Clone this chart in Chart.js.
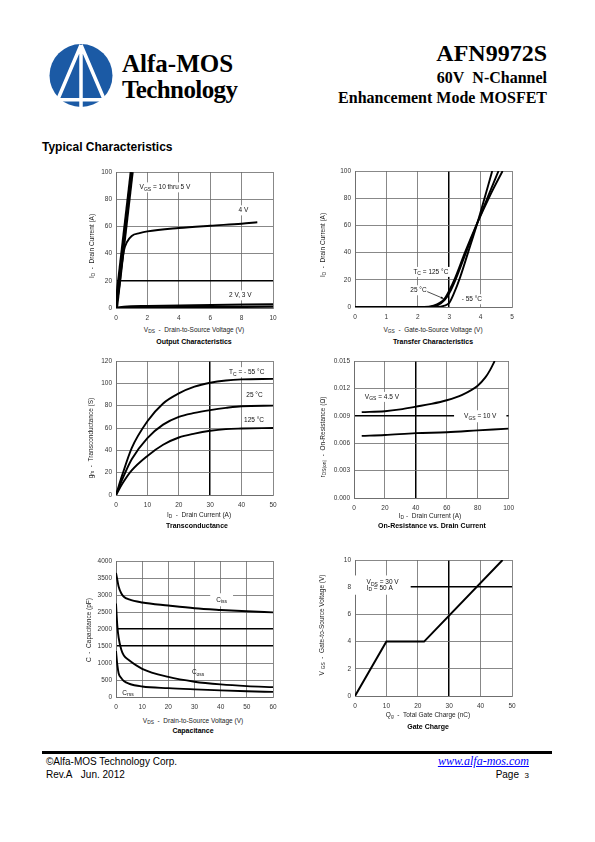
<!DOCTYPE html>
<html>
<head>
<meta charset="utf-8">
<script src="https://cdn.jsdelivr.net/npm/chart.js@4.4.1/dist/chart.umd.min.js"></script>
<style>
  body { margin: 0; width: 595px; height: 842px; position: relative; background: #fff; overflow: hidden;
         font-family: "Liberation Sans", Arial, sans-serif; color: #000; }
  .abs { position: absolute; white-space: nowrap; line-height: 1; }
  canvas { position: absolute; }
  .serif { font-family: "Liberation Serif", "Times New Roman", serif; font-weight: bold; }
  .c { transform: translate(-50%, -50%); }
  .xt { font-size: 6.5px; color: #222; }
  .yt { font-size: 6.5px; color: #222; transform: translate(-50%, -50%) rotate(-90deg); }
  .cap { font-size: 7px; font-weight: bold; }
  sub { font-size: 75%; vertical-align: -1.5px; line-height: 0; }
</style>
</head>
<body>

<svg class="abs" style="left:0;top:0" width="140" height="120">
  <circle cx="81" cy="75.5" r="31.5" fill="#1b5aa5"/>
  <rect x="45" y="98" width="72" height="3.5" fill="#fff"/>
  <path d="M81 45 L58 99 M81 45 L104 99 M81 45 L81 107" stroke="#fff" stroke-width="3.5" fill="none"/>
</svg>
<div class="abs serif" style="left:122px;top:51px;font-size:25px">Alfa-MOS</div>
<div class="abs serif" style="left:122px;top:77px;font-size:25px;letter-spacing:-0.6px">Technology</div>

<div class="abs serif" style="right:48px;top:41px;font-size:24px">AFN9972S</div>
<div class="abs serif" style="right:48px;top:69.5px;font-size:16px">60V&nbsp; N-Channel</div>
<div class="abs serif" style="right:48px;top:89.5px;font-size:16px">Enhancement Mode MOSFET</div>

<div class="abs" style="left:42px;top:141px;font-size:12px;font-weight:bold">Typical Characteristics</div>

<canvas id="c1"></canvas>
<canvas id="c2"></canvas>
<canvas id="c3"></canvas>
<canvas id="c4"></canvas>
<canvas id="c5"></canvas>
<canvas id="c6"></canvas>

<div class="abs yt" style="left:92px;top:246px">I<sub>D</sub>&nbsp; - &nbsp;Drain Current (A)</div>
<div class="abs xt c" style="left:194px;top:330px">V<sub>DS</sub>&nbsp; - &nbsp;Drain-to-Source Voltage (V)</div>
<div class="abs cap c" style="left:194px;top:341px">Output Characteristics</div>

<div class="abs yt" style="left:323px;top:245px">I<sub>D</sub>&nbsp; - &nbsp;Drain Current (A)</div>
<div class="abs xt c" style="left:433px;top:329.5px">V<sub>GS</sub>&nbsp; - &nbsp;Gate-to-Source Voltage (V)</div>
<div class="abs cap c" style="left:433px;top:341px">Transfer Characteristics</div>

<div class="abs yt" style="left:91px;top:438px">g<sub>fs</sub>&nbsp; - &nbsp;Transconductance (S)</div>
<div class="abs xt c" style="left:199px;top:514.5px">I<sub>D</sub>&nbsp; - &nbsp;Drain Current (A)</div>
<div class="abs cap c" style="left:197px;top:524.5px">Transconductance</div>

<div class="abs yt" style="left:323px;top:437px">r<sub>DS(on)</sub>&nbsp; - &nbsp;On-Resistance (Ω)</div>
<div class="abs xt c" style="left:430px;top:515.5px">I<sub>D</sub> - &nbsp;Drain Current (A)</div>
<div class="abs cap c" style="left:432px;top:524.5px">On-Resistance vs. Drain Current</div>

<div class="abs yt" style="left:89px;top:630px">C&nbsp; - &nbsp;Capacitance (pF)</div>
<div class="abs xt c" style="left:193px;top:720.5px">V<sub>DS</sub>&nbsp; - &nbsp;Drain-to-Source Voltage (V)</div>
<div class="abs cap c" style="left:193px;top:730px">Capacitance</div>

<div class="abs yt" style="left:322px;top:625px">V <sub>GS</sub>&nbsp; - &nbsp;Gate-to-Source Voltage (V)</div>
<div class="abs xt c" style="left:428px;top:714.5px">Q<sub>g</sub>&nbsp; - &nbsp;Total Gate Charge (nC)</div>
<div class="abs cap c" style="left:428px;top:725.5px">Gate Charge</div>

<div class="abs" style="left:42px;top:751px;width:510px;height:3px;background:#000"></div>
<div class="abs" style="left:46px;top:756.5px;font-size:10px">©Alfa-MOS Technology Corp.</div>
<div class="abs" style="left:46px;top:769.5px;font-size:10px">Rev.A&nbsp;&nbsp; Jun. 2012</div>
<div class="abs" style="right:66px;top:755px;font-size:12px;font-family:'Liberation Serif',serif;font-style:italic;color:#00f;text-decoration:underline">www.alfa-mos.com</div>
<div class="abs" style="right:66px;top:769.5px;font-size:10px">Page&nbsp; <span style="font-size:8px">3</span></div>

<script>
const FONT = '"Liberation Sans", Arial, sans-serif';

// Output characteristics (VDS in V, ID in A)
const outVdsHi = [0, 1.0];
const outIdHi = [0, 100];
const outVds4 = [0, 0.2, 0.35, 0.5, 0.7, 1, 1.5, 2, 4, 6, 8, 9];
const outId4 = [0, 15, 30, 42, 48.5, 53, 55, 56.3, 58.8, 60.5, 62, 63];
const outVdsLow = [0, 0.5, 2, 5, 10];
const outId3 = [0, 1, 1.5, 2, 2.8];
const outId2 = [0, 0.3, 0.5, 0.7, 1];

// Transfer characteristics (VGS in V, ID in A)
const tfVgs125 = [0, 2.2, 2.5, 2.7, 2.85, 3.0, 3.2, 3.5, 3.9, 4.3, 4.7];
const tfId125 = [0, 0, 1, 3, 6, 12, 22, 40, 62, 82, 100];
const tfVgs25 = [0, 2.4, 2.65, 2.85, 3.0, 3.2, 3.5, 3.9, 4.25, 4.57];
const tfId25 = [0, 0, 1.5, 5, 10, 20, 38, 62, 82, 100];
const tfVgsM55 = [0, 2.6, 2.85, 3.0, 3.15, 3.35, 3.6, 3.9, 4.15, 4.37];
const tfIdM55 = [0, 0, 1, 3, 10, 22, 40, 62, 82, 100];

// Transconductance (ID in A, gfs in S)
const gfsId = [0, 2, 5, 10, 15, 20, 25, 30, 35, 40, 50];
const gfsM55 = [0, 18, 42, 66, 82, 91, 97, 100.5, 102.5, 103.5, 104];
const gfs25 = [0, 14, 32, 51, 63, 70, 73.5, 76, 78, 79.5, 80];
const gfs125 = [0, 10, 22, 35, 45, 51.5, 55, 57.5, 59, 59.5, 60];

// On-resistance (ID in A, rDS(on) in ohm)
const ronId45 = [5, 20, 30, 40, 50, 60, 70, 80, 85, 88, 91];
const ron45 = [0.0094, 0.0095, 0.0097, 0.0100, 0.0103, 0.0107, 0.0113, 0.0123, 0.0132, 0.0140, 0.0150];
const ronId10 = [5, 20, 40, 60, 80, 100];
const ron10 = [0.0068, 0.0069, 0.0071, 0.0072, 0.0074, 0.0076];

// Capacitance (VDS in V, C in pF)
const capVds = [0, 0.5, 1, 2, 3, 5, 10, 20, 30, 40, 50, 60];
const capIss = [3650, 3450, 3250, 3050, 2950, 2870, 2780, 2690, 2610, 2560, 2520, 2490];
const capOss = [2750, 2100, 1750, 1400, 1220, 1080, 830, 590, 450, 370, 320, 290];
const capRss = [1350, 950, 700, 560, 470, 390, 310, 260, 225, 195, 170, 150];

// Gate charge (Qg in nC, VGS in V)
const gcQg = [0, 10, 22, 47];
const gcVgs = [0, 4, 4, 10];

const PAD_L = 40, PAD_T = 8, PAD_R = 10, PAD_B = 16;

function xy(xs, ys) { return xs.map((x, i) => ({ x: x, y: ys[i] })); }

function line(xs, ys, w, smooth) {
  return {
    data: xy(xs, ys), borderColor: '#000', borderWidth: w || 1.9, pointRadius: 0, fill: false,
    cubicInterpolationMode: smooth === false ? 'default' : 'monotone', tension: 0
  };
}

function scale(isX, min, max, step, dark, fmt) {
  const hit = v => dark.some(d => Math.abs(v - d) < step / 100);
  return {
    type: 'linear', min: min, max: max,
    afterFit: s => { if (isX) s.height = PAD_B; else s.width = PAD_L; },
    ticks: { stepSize: step, padding: isX ? 6 : 4, color: '#333', autoSkip: false, maxRotation: 0,
             font: { family: FONT, size: 6.5 }, callback: fmt || (v => v) },
    grid: { drawTicks: false,
            color: c => hit(c.tick.value) ? '#000' : '#6a6a6a',
            lineWidth: c => hit(c.tick.value) ? 1.5 : 0.8 },
    border: { color: '#6a6a6a', width: 0.8 }
  };
}

function splitRich(text) { return text.split(/_\{([^}]*)\}/); }
function richWidth(ctx, parts) {
  let w = 0;
  parts.forEach((p, i) => { ctx.font = (i % 2 ? '5px ' : '6.5px ') + FONT; w += ctx.measureText(p).width; });
  return w;
}

const notes = {
  id: 'notes',
  afterDatasetsDraw(chart, args, opts) {
    const ctx = chart.ctx, sx = chart.scales.x, sy = chart.scales.y;
    const items = opts.items || [];
    ctx.save();
    items.forEach(n => {
      if (!n.t || !n.bg) return;
      const w = richWidth(ctx, splitRich(n.t));
      const px = sx.getPixelForValue(n.x), py = sy.getPixelForValue(n.y);
      ctx.fillStyle = '#fff';
      ctx.fillRect(px - n.bg[0], py - 4 - n.bg[1], w + 2 * n.bg[0], 8 + 2 * n.bg[1]);
    });
    items.forEach(n => {
      if (n.arrow) {
        const a = n.arrow;
        const x0 = sx.getPixelForValue(a[0]), y0 = sy.getPixelForValue(a[1]);
        const x1 = sx.getPixelForValue(a[2]), y1 = sy.getPixelForValue(a[3]);
        const ang = Math.atan2(y1 - y0, x1 - x0);
        ctx.strokeStyle = '#000'; ctx.fillStyle = '#000'; ctx.lineWidth = 0.7;
        ctx.beginPath(); ctx.moveTo(x0, y0); ctx.lineTo(x1, y1); ctx.stroke();
        ctx.beginPath(); ctx.moveTo(x1, y1);
        ctx.lineTo(x1 - 3 * Math.cos(ang - 0.4), y1 - 3 * Math.sin(ang - 0.4));
        ctx.lineTo(x1 - 3 * Math.cos(ang + 0.4), y1 - 3 * Math.sin(ang + 0.4));
        ctx.fill();
        return;
      }
      const parts = splitRich(n.t);
      let cx = sx.getPixelForValue(n.x);
      const py = sy.getPixelForValue(n.y);
      ctx.fillStyle = '#111'; ctx.textBaseline = 'middle'; ctx.textAlign = 'left';
      parts.forEach((p, i) => {
        ctx.font = (i % 2 ? '5px ' : '6.5px ') + FONT;
        ctx.fillText(p, cx, py + (i % 2 ? 2 : 0));
        cx += ctx.measureText(p).width;
      });
    });
    ctx.restore();
  }
};

function makeChart(id, box, datasets, xScale, yScale, items) {
  const cv = document.getElementById(id);
  cv.width = box[2] - box[0] + PAD_L + PAD_R;
  cv.height = box[3] - box[1] + PAD_T + PAD_B;
  cv.style.left = (box[0] - PAD_L) + 'px';
  cv.style.top = (box[1] - PAD_T) + 'px';
  return new Chart(cv.getContext('2d'), {
    type: 'line',
    data: { datasets: datasets },
    options: {
      responsive: false, animation: false, events: [],
      layout: { padding: { top: PAD_T, right: PAD_R, left: 0, bottom: 0 } },
      scales: { x: xScale, y: yScale },
      plugins: { legend: { display: false }, tooltip: { enabled: false }, notes: { items: items } }
    },
    plugins: [notes]
  });
}

makeChart('c1', [116, 172, 273, 308],
  [line(outVdsHi, outIdHi, 4, false), line(outVds4, outId4), line(outVdsLow, outId3), line(outVdsLow, outId2, 2.2)],
  scale(true, 0, 10, 2, []), scale(false, 0, 100, 20, [20]),
  [{ x: 1.5, y: 88.7, t: 'V_{GS} = 10 thru 5 V', bg: [2, 1] },
   { x: 7.8, y: 71.8, t: '4 V', bg: [2, 1] },
   { x: 7.2, y: 9.3, t: '2 V, 3 V', bg: [2, 1] }]);

makeChart('c2', [355, 171, 512, 307],
  [line(tfVgs125, tfId125), line(tfVgs25, tfId25), line(tfVgsM55, tfIdM55)],
  scale(true, 0, 5, 1, [3]), scale(false, 0, 100, 20, []),
  [{ x: 1.86, y: 25.8, t: 'T_{C} = 125 °C', bg: [2, 1] },
   { x: 1.76, y: 12.3, t: '25 °C', bg: [2, 1] },
   { arrow: [2.3, 11.3, 2.82, 6.2] },
   { x: 3.4, y: 5.7, t: '- 55 °C', bg: [2, 1] }]);

makeChart('c3', [116, 361, 273, 495],
  [line(gfsId, gfsM55), line(gfsId, gfs25), line(gfsId, gfs125)],
  scale(true, 0, 50, 10, [30]), scale(false, 0, 120, 20, []),
  [{ x: 36, y: 110, t: 'T_{C} = - 55 °C', bg: [2, 1] },
   { x: 41.5, y: 89.5, t: '25 °C', bg: [2, 1] },
   { x: 40.8, y: 67, t: '125 °C', bg: [2, 1] }]);

makeChart('c4', [354, 361, 510, 498],
  [line(ronId45, ron45), line(ronId10, ron10)],
  scale(true, 0, 100, 20, [40]), scale(false, 0, 0.015, 0.003, [0.009], v => v.toFixed(3)),
  [{ x: 7, y: 0.01107, t: 'V_{GS} = 4.5 V', bg: [2, 1] },
   { x: 71.2, y: 0.00895, t: 'V_{GS} = 10 V', bg: [10, 2] }]);

makeChart('c5', [116, 561, 273, 697],
  [line(capVds, capIss), line(capVds, capOss), line(capVds, capRss)],
  scale(true, 0, 60, 10, []), scale(false, 0, 4000, 500, [1500, 2000]),
  [{ x: 38.3, y: 2860, t: 'C_{iss}', bg: [6, 2.5] },
   { x: 29, y: 716, t: 'C_{oss}' },
   { x: 2.4, y: 118, t: 'C_{rss}' }]);

makeChart('c6', [355, 560, 512, 696],
  [line(gcQg, gcVgs, 2, false)],
  scale(true, 0, 50, 10, [30]), scale(false, 0, 10, 2, [8]),
  [{ x: 3.7, y: 8.35, t: 'V_{DS} = 30 V', bg: [12, 3] },
   { x: 3.7, y: 7.96, t: 'I_{D} = 50 A', bg: [12, 3] }]);
</script>
</body>
</html>
